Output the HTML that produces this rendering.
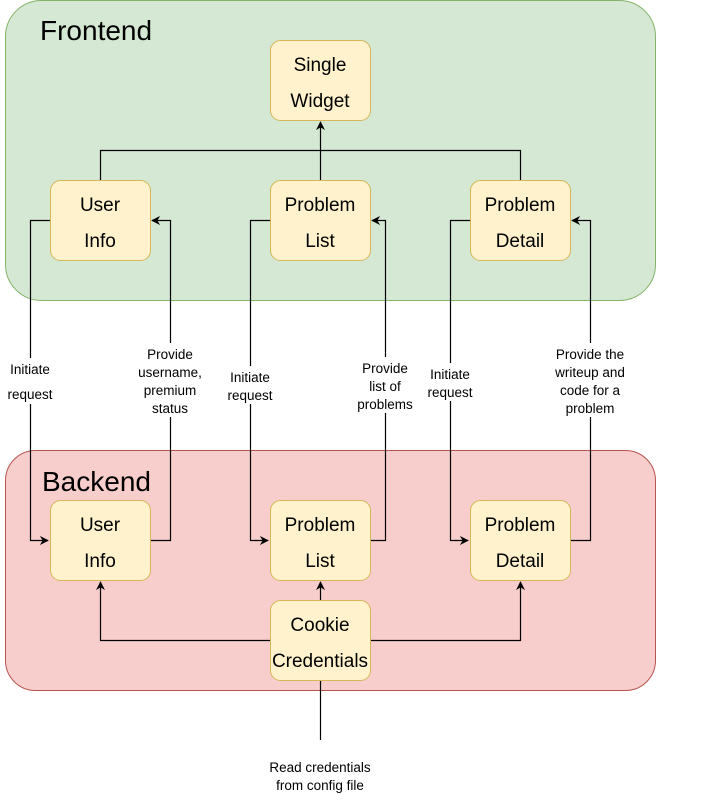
<!DOCTYPE html>
<html><head><meta charset="utf-8"><style>
html,body{margin:0;padding:0;background:#fff;}
svg{display:block;font-family:"Liberation Sans",Arial,sans-serif;}
</style></head><body>
<svg width="711" height="811" viewBox="0 0 711 811" xmlns="http://www.w3.org/2000/svg">
<defs>
<marker id="a" viewBox="0 0 10 10" refX="9" refY="5" markerWidth="9" markerHeight="9" orient="auto-start-reverse" markerUnits="userSpaceOnUse">
<path d="M0,0 L10,5 L0,10 L3,5 z" fill="#000"/></marker>
</defs>
<rect x="5.5" y="0.5" width="650" height="300" rx="36" fill="#d5e8d4" stroke="#82b366"/>
<rect x="5.5" y="450.5" width="650" height="240" rx="30" fill="#f8cecc" stroke="#b85450"/>
<text x="40" y="40" font-size="28">Frontend</text>
<text x="42" y="491" font-size="28">Backend</text>
<g fill="none" stroke="#000" stroke-width="1.2">
<path d="M100.5,180 V150.5 H520.5 V180"/>
<path d="M320.5,180 V122" marker-end="url(#a)"/>
<path d="M50,220.5 H30.5 V540.5 H48" marker-end="url(#a)"/>
<path d="M150,540.5 H170.5 V220.5 H152" marker-end="url(#a)"/>
<path d="M270,220.5 H250.5 V540.5 H268" marker-end="url(#a)"/>
<path d="M370,540.5 H385.5 V220.5 H372" marker-end="url(#a)"/>
<path d="M470,220.5 H450.5 V540.5 H468" marker-end="url(#a)"/>
<path d="M570,540.5 H590.5 V220.5 H572" marker-end="url(#a)"/>
<path d="M320.5,600 V582" marker-end="url(#a)"/>
<path d="M270,640.5 H100.5 V582" marker-end="url(#a)"/>
<path d="M370,640.5 H520.5 V582" marker-end="url(#a)"/>
<path d="M320.5,740 V680"/>
</g>
<g fill="#fff2cc" stroke="#d6b656">
<rect x="270.5" y="40.5" width="100" height="80" rx="10"/>
<rect x="50.5" y="180.5" width="100" height="80" rx="10"/>
<rect x="270.5" y="180.5" width="100" height="80" rx="10"/>
<rect x="470.5" y="180.5" width="100" height="80" rx="10"/>
<rect x="50.5" y="500.5" width="100" height="80" rx="10"/>
<rect x="270.5" y="500.5" width="100" height="80" rx="10"/>
<rect x="470.5" y="500.5" width="100" height="80" rx="10"/>
<rect x="270.5" y="600.5" width="100" height="80" rx="10"/>
</g>
<g font-size="19" text-anchor="middle">
<text x="320" y="71">Single</text><text x="320" y="107">Widget</text>
<text x="100" y="211">User</text><text x="100" y="247">Info</text>
<text x="320" y="211">Problem</text><text x="320" y="247">List</text>
<text x="520" y="211">Problem</text><text x="520" y="247">Detail</text>
<text x="100" y="531">User</text><text x="100" y="567">Info</text>
<text x="320" y="531">Problem</text><text x="320" y="567">List</text>
<text x="520" y="531">Problem</text><text x="520" y="567">Detail</text>
<text x="320" y="631">Cookie</text><text x="320" y="667">Credentials</text>
</g>
<g fill="#fff">
<rect x="4" y="358" width="52" height="46"/>
<rect x="138" y="343" width="66" height="74"/>
<rect x="224" y="366" width="54" height="38"/>
<rect x="350" y="357" width="70" height="56"/>
<rect x="423" y="363" width="54" height="38"/>
<rect x="546" y="343" width="90" height="74"/>
</g>
<g font-size="13.5" text-anchor="middle">
<text x="30" y="374">Initiate</text><text x="30" y="399">request</text>
<text x="170" y="359">Provide</text><text x="170" y="377">username,</text><text x="170" y="395">premium</text><text x="170" y="413">status</text>
<text x="250" y="382">Initiate</text><text x="250" y="400">request</text>
<text x="385" y="373">Provide</text><text x="385" y="391">list of</text><text x="385" y="409">problems</text>
<text x="450" y="379">Initiate</text><text x="450" y="397">request</text>
<text x="590" y="359">Provide the</text><text x="590" y="377">writeup and</text><text x="590" y="395">code for a</text><text x="590" y="413">problem</text>
<text x="320" y="772">Read credentials</text><text x="320" y="790">from config file</text>
</g>
</svg>
</body></html>
